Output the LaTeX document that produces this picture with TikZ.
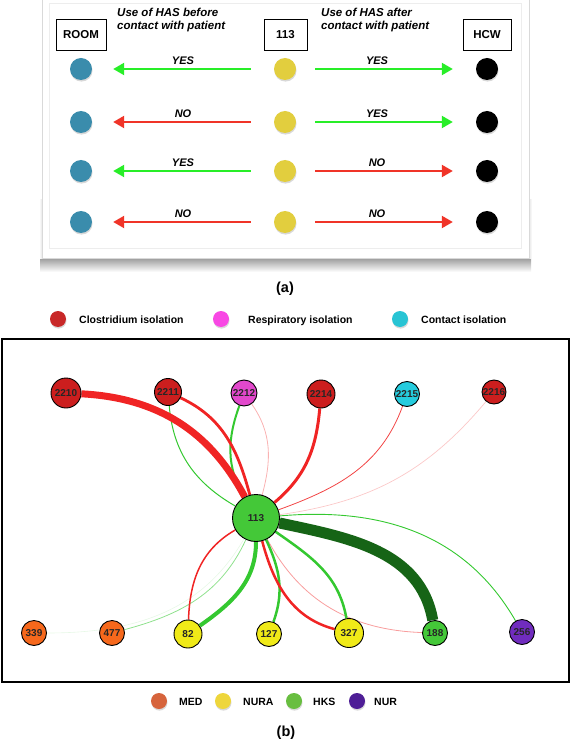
\documentclass[tikz,border=0pt]{standalone}
\usepackage{fontspec}
\setmainfont{Liberation Sans}
\usetikzlibrary{arrows.meta,shadows,backgrounds}

\definecolor{roomblue}{RGB}{58,140,172}
\definecolor{hasyellow}{RGB}{226,206,62}
\definecolor{yesgreen}{RGB}{40,238,40}
\definecolor{nored}{RGB}{240,52,40}
\definecolor{edgered}{RGB}{240,36,36}
\definecolor{edgegreen}{RGB}{52,200,48}
\definecolor{darkgreen}{RGB}{22,100,22}
\definecolor{clored}{RGB}{204,30,30}
\definecolor{resppink}{RGB}{226,72,204}
\definecolor{contcyan}{RGB}{38,204,222}
\definecolor{medorange}{RGB}{246,104,28}
\definecolor{nurayellow}{RGB}{240,234,24}
\definecolor{hksgreen}{RGB}{68,200,56}
\definecolor{nurpurple}{RGB}{112,44,190}
% legend colours
\definecolor{lgred}{RGB}{200,40,40}
\definecolor{lgpink}{RGB}{248,72,228}
\definecolor{lgcyan}{RGB}{40,196,212}
\definecolor{lgmed}{RGB}{214,100,60}
\definecolor{lgnura}{RGB}{238,214,60}
\definecolor{lghks}{RGB}{104,190,64}
\definecolor{lgnur}{RGB}{78,30,150}

\tikzset{
	dot/.style={circle, minimum size=22pt, inner sep=0pt,
		drop shadow={shadow xshift=0.5pt, shadow yshift=-1.6pt, opacity=0.3}},
	legdot/.style={dot, minimum size=16pt},
	headbox/.style={draw, line width=0.8pt, minimum height=31pt, inner sep=0pt,
		font=\bfseries\fontsize{11.5}{13.5}\selectfont},
	headtext/.style={align=left, inner sep=0pt, anchor=north west,
		font=\bfseries\itshape\fontsize{11.5}{13.5}\selectfont},
	hasarrow/.style={line width=2.2pt, -{Triangle[length=11pt,width=12pt]}},
	toroom/.style={hasarrow, shorten <=23pt, shorten >=21pt},
	tohcw/.style={hasarrow, shorten <=19pt, shorten >=23pt},
	ans/.style={above=3.5pt, inner sep=0pt, text=black,
		font=\bfseries\itshape\fontsize{11}{13}\selectfont},
	legtext/.style={anchor=base west, inner sep=0pt,
		font=\bfseries\fontsize{10.5}{12}\selectfont},
	person/.style={circle, draw, line width=0.9pt, inner sep=0pt, text=black!85,
		font=\bfseries\fontsize{10}{12}\selectfont},
	caption/.style={font=\bfseries\fontsize{14.5}{17}\selectfont}
}

\begin{document}
\begin{tikzpicture}[x=1pt,y=1pt]
	\useasboundingbox (0,0) rectangle (572,-743);

	% (a) card with its shadow
	\shade[top color=black!45, bottom color=white] (40,-256) rectangle (531,-272);
	\shade[left color=white, right color=black!10] (39,-200) rectangle (42,-258);
	\shade[left color=black!10, right color=white] (529,-200) rectangle (532,-258);
	\filldraw[fill=white, draw=black!15] (42,3) rectangle (529,-258);
	\draw[black!7] (49,-3) rectangle (521,-248);

	\node[headbox, minimum width=50pt] (room) at (81,-35) {ROOM};
	\node[headbox, minimum width=43pt] (pat) at (285.5,-35) {113};
	\node[headbox, minimum width=48pt] (hcw) at (487,-35) {HCW};
	\node[headtext] (before) at (117,-7.6) {Use of HAS before\\contact with patient};
	\node[headtext] (after) at (321,-7.6) {Use of HAS after\\contact with patient};

	\foreach \y/\i in {69/1,122/2,171/3,222/4} {
		\node[dot, fill=roomblue] (r\i) at (81,-\y) {};
		\node[dot, fill=hasyellow] (p\i) at (285,-\y) {};
		\node[dot, fill=black] (h\i) at (487,-\y) {};
	}

	\draw[toroom, yesgreen] (p1) -- node[ans] {YES} (r1);
	\draw[tohcw, yesgreen] (p1) -- node[ans, pos=0.45] {YES} (h1);
	\draw[toroom, nored] (p2) -- node[ans] {NO} (r2);
	\draw[tohcw, yesgreen] (p2) -- node[ans, pos=0.45] {YES} (h2);
	\draw[toroom, yesgreen] (p3) -- node[ans] {YES} (r3);
	\draw[tohcw, nored] (p3) -- node[ans, pos=0.45] {NO} (h3);
	\draw[toroom, nored] (p4) -- node[ans] {NO} (r4);
	\draw[tohcw, nored] (p4) -- node[ans, pos=0.45] {NO} (h4);

	\node[caption] (capa) at (285,-289) {(a)};

	% (b) isolation legend
	\node[legdot, fill=lgred] (lclo) at (58,-319) {};
	\node[legtext] (tclo) at (79,-323) {Clostridium isolation};
	\node[legdot, fill=lgpink] (lresp) at (221,-319) {};
	\node[legtext] (tresp) at (248,-323) {Respiratory isolation};
	\node[legdot, fill=lgcyan] (lcont) at (400,-319) {};
	\node[legtext] (tcont) at (421,-323) {Contact isolation};

	\draw[line width=1.4pt] (2,-339) rectangle (569,-682);

	% rooms
	\node[person, fill=clored, minimum size=30pt] (n2210) at (66,-393) {2210};
	\node[person, fill=clored, minimum size=27pt] (n2211) at (168,-392) {2211};
	\node[person, fill=resppink, minimum size=26pt] (n2212) at (244,-393) {2212};
	\node[person, fill=clored, minimum size=28pt] (n2214) at (321,-394) {2214};
	\node[person, fill=contcyan, minimum size=25pt] (n2215) at (407,-394) {2215};
	\node[person, fill=clored, minimum size=24pt] (n2216) at (494,-392) {2216};
	% patient
	\node[person, fill=hksgreen, minimum size=47pt] (n113) at (256,-518) {113};
	% health care workers
	\node[person, fill=medorange, minimum size=25pt] (n339) at (34,-633) {339};
	\node[person, fill=medorange, minimum size=25pt] (n477) at (112,-633) {477};
	\node[person, fill=nurayellow, minimum size=28pt] (n82) at (188,-634) {82};
	\node[person, fill=nurayellow, minimum size=25pt] (n127) at (269,-634) {127};
	\node[person, fill=nurayellow, minimum size=29pt] (n327) at (349,-633) {327};
	\node[person, fill=hksgreen, minimum size=25pt] (n188) at (435,-633) {188};
	\node[person, fill=nurpurple, minimum size=25pt] (n256) at (522,-632) {256};

	\begin{scope}[on background layer]
		\draw[edgegreen!12, line width=0.6pt] (n339) to[out=0, in=-120] (n113);
		\draw[edgegreen!55, line width=0.8pt] (n113) to[out=-115, in=15] (n477);
		\draw[edgered!25, line width=0.7pt] (n2216) to[out=-130, in=8] (n113);
		\draw[edgered!85, line width=0.8pt] (n2215) to[out=-110, in=20] (n113);
		\draw[edgered!35, line width=0.8pt] (n2212) to[out=-55, in=75] (n113);
		\draw[edgered!45, line width=0.8pt] (n113) to[out=-62, in=178] (n188);
		\draw[edgegreen, line width=0.9pt] (n113) to[out=5, in=120] (n256);
		\draw[edgegreen, line width=1pt] (n2211) to[out=-85, in=150] (n113);
		\draw[edgegreen, line width=2pt] (n2212) to[out=-110, in=120] (n113);
		\draw[edgered, line width=2.8pt] (n2211) to[out=-25, in=105] (n113);
		\draw[edgered, line width=7pt] (n2210) to[out=-3, in=118] (n113);
		\draw[edgered, line width=3pt] (n2214) to[out=-95, in=40] (n113);
		\draw[edgered, line width=1.5pt] (n113) to[out=-150, in=88] (n82);
		\draw[edgegreen, line width=4pt] (n113) to[out=-90, in=35] (n82);
		\draw[edgegreen, line width=2.5pt] (n113) to[out=-65, in=70] (n127);
		\draw[edgered, line width=2.5pt] (n113) to[out=-75, in=165] (n327);
		\draw[edgegreen, line width=2.5pt] (n113) to[out=-35, in=100] (n327);
		\draw[darkgreen, line width=11pt] (n113) to[out=-12, in=100] (n188);
	\end{scope}

	% occupation legend
	\node[legdot, fill=lgmed] (lmed) at (159,-701) {};
	\node[legtext] (tmed) at (179,-705) {MED};
	\node[legdot, fill=lgnura] (lnura) at (223,-701) {};
	\node[legtext] (tnura) at (243,-705) {NURA};
	\node[legdot, fill=lghks] (lhks) at (294,-701) {};
	\node[legtext] (thks) at (313,-705) {HKS};
	\node[legdot, fill=lgnur] (lnur) at (357,-701) {};
	\node[legtext] (tnur) at (374,-705) {NUR};

	\node[caption] (capb) at (286,-733) {(b)};
\end{tikzpicture}
\end{document}
